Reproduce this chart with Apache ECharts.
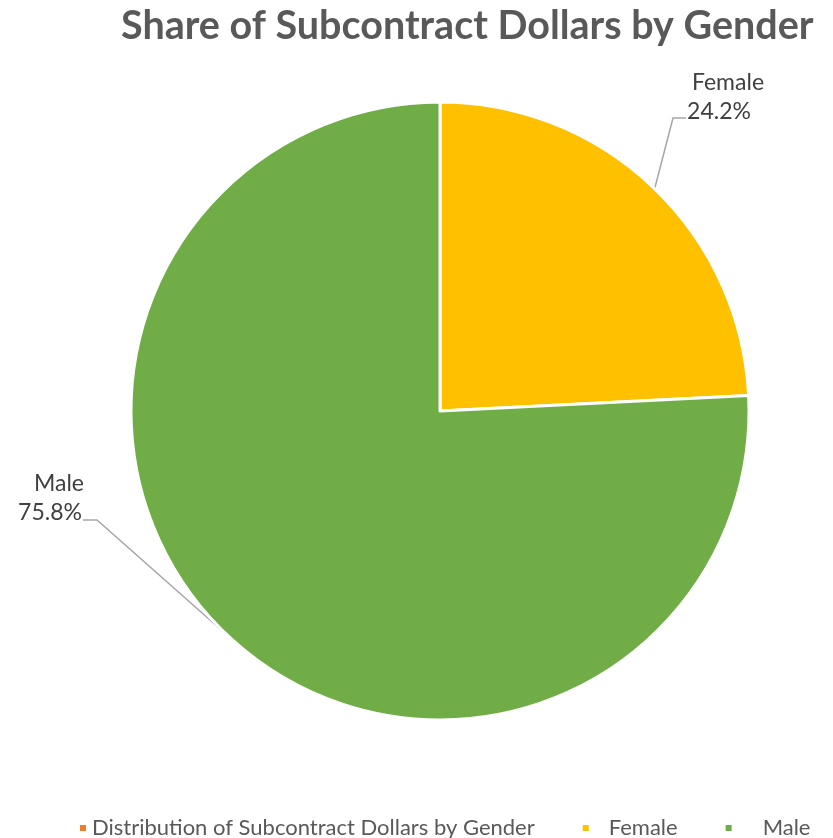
<!DOCTYPE html>
<html>
<head>
<meta charset="utf-8">
<script src="https://cdn.jsdelivr.net/npm/echarts@6/dist/echarts.min.js"></script>
<style>
  html, body { margin: 0; padding: 0; background: #fff; }
  #chart { width: 833px; height: 838px; }
</style>
</head>
<body>
<div id="chart"></div>
<script>
const titleText = "Share of Subcontract Dollars by Gender";
const seriesName = "Distribution of Subcontract Dollars by Gender";
const categories = ["Female", "Male"];
const shares = [24.2, 75.8];

const sliceColors = ["#FFC000", "#70AD47"];
const FONT = "Lato, Carlito, 'Open Sans', sans-serif";

// pie geometry in px
const cx = 440, cy = 411, R = 309;

// where excel put the data labels (label centre) and the leader bend
const labelSpots = [
  { x: 719, y: 97, angle: 46, bend: [673, 118], end: [686, 118] },
  { x: 50, y: 498, angle: 227, bend: [97, 520], end: [83, 520] },
];

const chart = echarts.init(document.getElementById("chart"));

const option = {
  animation: false,
  color: sliceColors,
  title: {
    text: titleText,
    left: 116,
    top: 1,
    textStyle: {
      fontFamily: FONT,
      fontSize: 39.5,
      fontWeight: "bold",
      color: "#595959",
    },
  },
  legend: {
    left: 73,
    top: 812,
    icon: "rect",
    itemWidth: 8,
    itemHeight: 8,
    itemGap: 46,
    textStyle: { fontFamily: FONT, fontSize: 22, color: "#595959" },
    data: [
      { name: seriesName, itemStyle: { color: "#ED7D31" } },
      { name: categories[0], textStyle: { padding: [0, 0, 0, 14] } },
      { name: categories[1], textStyle: { padding: [0, 0, 0, 25] } },
    ],
  },
  series: [
    {
      name: seriesName,
      type: "pie",
      center: [cx, cy],
      radius: R,
      startAngle: 90,
      clockwise: true,
      avoidLabelOverlap: false,
      itemStyle: { borderColor: "#fff", borderWidth: 3 },
      emphasis: { disabled: true },
      label: {
        show: true,
        position: "outside",
        fontFamily: FONT,
        fontSize: 23,
        lineHeight: 29,
        color: "#404040",
        align: "center",
        formatter: (p) => `{a|${p.name}}\n{b|${p.percent.toFixed(1)}%}`,
        rich: {
          a: { fontFamily: FONT, fontSize: 23, lineHeight: 29, color: "#404040", padding: [0, 0, 0, 18] },
          b: { fontFamily: FONT, fontSize: 23, lineHeight: 29, color: "#404040" },
        },
      },
      labelLine: {
        show: true,
        lineStyle: { color: "#A6A6A6", width: 1.5 },
      },
      labelLayout: (params) => {
        const s = labelSpots[params.dataIndex];
        const a = (s.angle * Math.PI) / 180;
        return {
          x: s.x,
          y: s.y,
          align: "center",
          verticalAlign: "middle",
          labelLinePoints: [
            [cx + R * Math.cos(a), cy - R * Math.sin(a)],
            s.bend,
            s.end,
          ],
        };
      },
      data: categories.map((name, i) => ({ name, value: shares[i] })),
    },
  ],
};

chart.setOption(option);
window.addEventListener("resize", () => chart.resize());
</script>
</body>
</html>
